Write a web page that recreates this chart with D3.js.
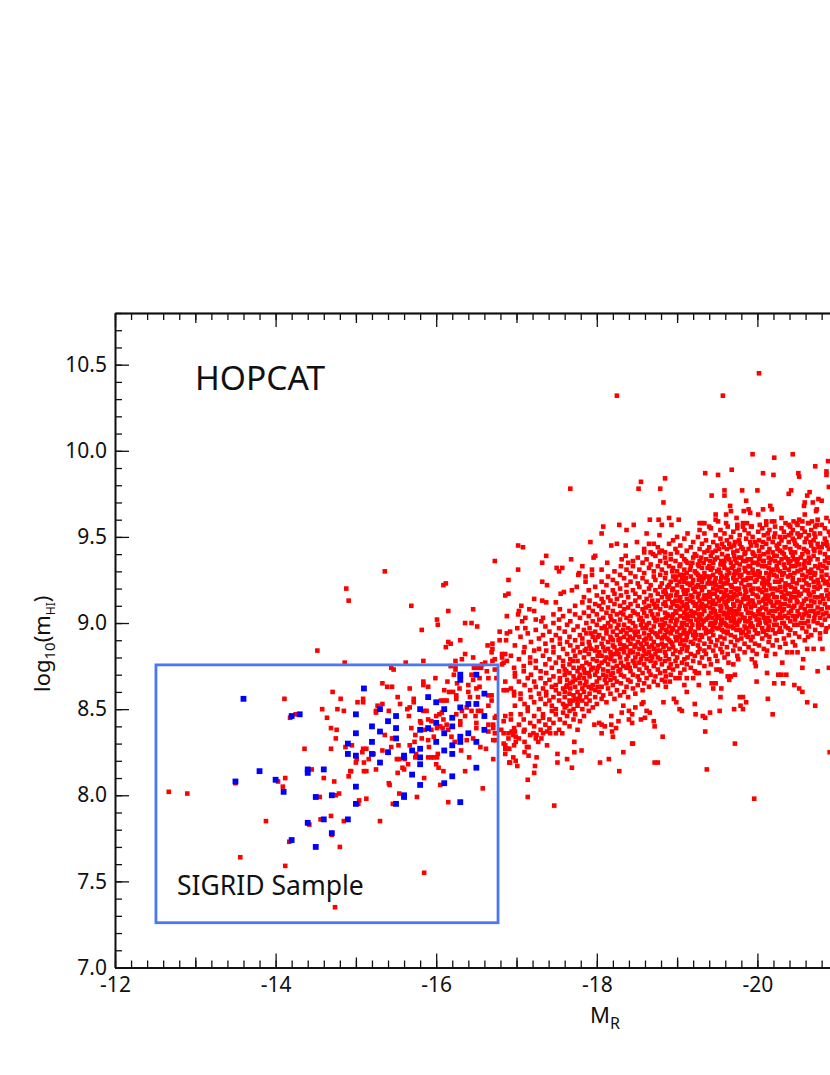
<!DOCTYPE html>
<html>
<head>
<meta charset="utf-8">
<script src="https://cdn.jsdelivr.net/npm/d3@7"></script>
<style>
  body { margin: 0; background: #fff; }
  svg { display: block; font-family: "Noto Sans", sans-serif; }
</style>
</head>
<body>
<svg id="chart" width="830" height="1075"></svg>
<script>
// SIGRID sample, on its 0.1 mag grid
var blueMR = [-13.6,-14.2,-14.3,-14.9,-14.9,-13.8,-14.4,-14.4,-14.6,-13.5,-14.0,-14.1,-14.5,-14.7,-14.6,-14.9,-14.4,-14.7,-14.2,-14.5,
  -15.1,-15.0,-15.3,-15.5,-15.4,-15.2,-15.3,-15.5,-15.0,-15.2,-15.5,-15.0,-15.2,-15.4,-15.3,-15.6,-15.6,-15.7,-15.8,-15.8,-15.8,-15.7,-15.8,-15.0,-15.0,-15.6,-15.6,-15.5,
  -15.9,-16.0,-16.1,-15.8,-16.3,-16.4,-16.5,-16.5,-16.3,-16.3,-16.6,-16.6,-16.2,-16.0,-16.2,-15.9,-15.8,-16.1,-16.6,-16.4,-16.3,-16.3,-16.0,-16.2,-16.5,-16.1,-16.2,-16.5,-16.2,-16.1,-16.3];
var blueHI = [8.56,8.46,8.47,8.30,8.24,8.14,8.15,8.13,8.15,8.08,8.09,8.02,7.99,8.00,7.86,7.86,7.84,7.78,7.74,7.70,
  8.62,8.47,8.50,8.46,8.43,8.40,8.37,8.39,8.36,8.31,8.33,8.23,8.24,8.25,8.19,8.23,8.22,8.26,8.27,8.22,8.18,8.12,8.06,8.05,7.95,8.00,7.99,7.95,
  8.57,8.54,8.50,8.50,8.51,8.53,8.53,8.70,8.70,8.67,8.59,8.46,8.45,8.42,8.40,8.39,8.38,8.36,8.38,8.36,8.34,8.31,8.31,8.29,8.31,8.26,8.24,8.16,8.11,8.07,7.96];

// red points that can be read one by one: [M_R, log m_HI]
var redFaint = [[-12.67,8.02],[-12.90,8.01],[-13.50,8.07],[-13.56,7.64],[-13.88,7.85],[-14.03,8.08],[-14.09,8.05],[-14.11,8.56],[-14.12,8.10],[-14.12,7.59],[-14.17,7.73],[-14.18,8.45],[-14.25,8.47],[-14.36,8.27],[-14.42,7.83],[-14.45,8.15],[-14.52,8.84],[-14.55,7.99],[-14.56,7.86],[-14.58,8.50],[-14.60,8.10],[-14.64,8.45],[-14.69,8.39],[-14.69,8.27],[-14.69,7.88],[-14.70,7.77],[-14.71,8.60],[-14.73,8.08],[-14.74,7.35],[-14.75,8.33],[-14.75,8.00],[-14.76,8.38],[-14.77,8.50],[-14.79,8.01],[-14.80,7.70],[-14.81,8.56],[-14.85,8.49],[-14.85,7.85],[-14.86,8.77],[-14.87,8.28],[-14.88,9.20],[-14.91,9.13],[-14.91,8.11],[-14.93,8.14],[-15.85,7.55]];
var redLowBand = [[-15.36,9.30],[-15.69,9.10],[-16.09,9.22],[-16.12,9.23],[-16.15,9.07],[-16.46,9.08],[-16.01,9.02],[-16.02,8.99],[-16.36,9.00],[-16.44,9.00],[-16.51,8.98],[-15.82,8.96],[-16.73,9.36],[-16.90,9.25],[-16.86,9.16],[-16.90,9.17],[-16.88,9.04],[-16.79,8.95],[-16.88,8.94],[-16.92,8.95],[-16.15,8.89],[-16.18,8.88],[-16.12,8.86],[-16.30,8.90],[-16.79,8.90],[-16.87,8.90],[-16.64,8.87],[-16.70,8.88],[-16.70,8.85],[-16.69,8.83],[-16.36,8.82],[-16.46,8.80],[-16.32,8.79],[-16.24,8.78],[-16.82,8.82],[-16.86,8.82],[-16.82,8.80],[-16.88,8.78],[-16.84,8.77],[-16.82,8.76],[-16.73,8.79],[-16.70,8.78],[-16.61,8.77],[-16.57,8.76],[-15.84,8.78],[-15.62,8.77],
  [-15.44,8.74],[-15.47,8.73],[-15.99,8.68],[-15.33,8.65],[-15.39,8.63],[-15.45,8.63],[-15.67,8.62],[-15.84,8.66],[-15.84,8.64],[-15.90,8.63],[-16.14,8.66],[-16.26,8.65],[-16.22,8.70],[-16.24,8.73],[-16.18,8.75],[-16.24,8.75],[-16.47,8.74],[-16.52,8.74],[-16.56,8.74],[-16.63,8.72],[-16.73,8.73],[-16.44,8.70],[-16.46,8.67],[-16.54,8.68],[-16.65,8.68],[-16.75,8.68],[-16.86,8.66],[-15.02,8.54],[-15.09,8.56],[-15.09,8.54],[-15.27,8.52],[-15.33,8.53],[-15.25,8.49],[-15.25,8.48],[-15.52,8.57],[-15.55,8.53],[-15.41,8.49],[-15.67,8.51],[-15.64,8.50],[-15.66,8.46],[-15.72,8.56],[-15.72,8.54],[-15.84,8.49],[-15.88,8.49],[-16.06,8.55],[-16.10,8.55],[-16.13,8.55],[-16.25,8.58],[-16.25,8.56],[-16.10,8.61],[-16.16,8.60],[-16.21,8.60],[-16.29,8.62],[-16.40,8.64],[-16.40,8.60],[-16.42,8.57],[-16.50,8.62],[-16.54,8.63],[-16.52,8.57],[-16.65,8.58],[-16.69,8.58],[-16.69,8.55],[-16.65,8.52],[-16.84,8.61],[-16.88,8.61],[-16.38,8.51],[-16.44,8.49],[-16.52,8.49],[-16.49,8.46],[-16.56,8.49],[-16.32,8.49],[-16.25,8.47],[-16.07,8.48],[-16.00,8.46],[-16.04,8.47],[-15.80,8.43],[-15.90,8.44],[-15.81,8.42],[-15.94,8.43],[-16.09,8.44],[-16.36,8.46],[-16.30,8.43],[-16.50,8.42],[-16.65,8.41],[-16.71,8.41],[-16.73,8.45],[-16.75,8.46],[-16.86,8.46],[-16.84,8.43],[-15.86,8.38],[-15.69,8.39],[-15.74,8.35],[-15.94,8.38],[-16.05,8.40],[-16.01,8.39],[-16.08,8.39],[-16.13,8.41],[-16.15,8.38],[-16.30,8.41],[-16.50,8.39],[-16.65,8.37],[-16.71,8.39],[-16.73,8.36],[-16.84,8.36],[-16.90,8.33],[-15.73,8.31],[-15.82,8.33],[-15.90,8.32],[-15.97,8.34],[-16.19,8.34],[-16.23,8.31],[-16.38,8.32],[-16.46,8.33],[-16.71,8.32],[-16.74,8.32],[-16.86,8.29],[-15.67,8.29],[-15.91,8.28],[-15.53,8.29],[-15.44,8.28],[-15.33,8.26],[-15.54,8.21],[-15.45,8.33],[-15.36,8.35],[-14.95,8.29],[-15.13,8.27],[-15.09,8.27],[-15.08,8.25],[-15.01,8.21],[-15.16,8.21],[-15.22,8.24],[-15.10,8.19],[-15.00,8.19],[-15.51,8.21],[-15.61,8.21],[-15.74,8.22],[-15.75,8.24],[-15.90,8.22],[-15.94,8.22],[-15.97,8.22],[-16.02,8.24],[-16.01,8.22],[-16.00,8.18],[-16.03,8.16],[-16.09,8.14],[-16.31,8.26],[-16.41,8.22],[-16.55,8.28],[-16.62,8.27],[-16.71,8.21],[-16.86,8.24],[-16.91,8.19],[-16.36,8.14],[-15.58,8.16],[-15.60,8.15],[-15.65,8.18],[-15.52,8.13],[-15.25,8.15],[-15.10,8.14],[-15.13,8.14],[-14.94,8.14],[-15.41,8.07],[-15.42,8.06],[-15.85,8.10],[-16.05,8.06],[-16.58,8.04],[-15.13,7.98],[-15.04,7.97],[-15.03,7.95],[-15.54,8.01],[-15.76,7.99],[-15.46,7.95],[-16.15,7.96],[-15.30,7.85]];
var redUpper = [[-18.25,10.32],[-19.57,10.32],[-20.02,10.45],[-17.67,9.78],[-18.55,9.82],[-18.52,9.78],[-18.85,9.84],[-18.79,9.78],[-18.83,9.70],[-18.66,9.60],[-18.77,9.60],[-18.90,9.61],[-19.02,9.60],[-18.81,9.57],[-18.93,9.57],[-18.46,9.57],[-18.28,9.57],[-18.08,9.56],[-18.37,9.54],[-19.28,9.58],[-19.31,9.58],[-19.34,9.58],[-19.40,9.56],[-19.35,9.87],[-19.51,9.86],[-19.68,9.89],[-19.94,9.98],[-20.21,9.96],[-20.44,9.98],[-20.88,9.94],[-20.72,9.91],[-20.07,9.87],[-20.20,9.86],[-20.51,9.87],[-20.52,9.85],[-20.86,9.88],[-20.86,9.86],[-19.59,9.77],[-19.59,9.74],[-19.43,9.74],[-19.81,9.77],[-20.00,9.77],[-20.42,9.77],[-20.39,9.75],[-20.65,9.76],[-20.62,9.74],[-20.89,9.79],[-19.86,9.71],[-19.66,9.68],[-19.67,9.65],[-19.48,9.63],[-19.61,9.63],[-19.48,9.60],[-19.51,9.59],[-19.61,9.58],[-19.83,9.65],[-19.89,9.66],[-19.91,9.64],[-19.74,9.61],[-20.01,9.63],[-20.07,9.66],[-20.16,9.68],[-20.18,9.66],[-20.30,9.61],[-20.59,9.70],[-20.58,9.68],[-20.69,9.70],[-20.76,9.72],[-20.80,9.71],[-20.59,9.63],[-20.74,9.66],[-20.73,9.65],[-19.75,9.57],[-19.82,9.58],[-19.87,9.58],[-19.82,9.56],[-19.93,9.56],[-20.03,9.57],[-20.11,9.59],[-20.18,9.59],[-20.21,9.59],[-20.39,9.57],[-20.45,9.59],[-20.49,9.58],[-20.52,9.60],[-20.56,9.59],[-20.63,9.58],[-20.68,9.59],[-20.74,9.57],
  [-17.02,9.45],[-17.08,9.44],[-17.02,9.31],[-17.37,9.39],[-17.32,9.35],[-17.68,9.37],[-17.92,9.47],[-18.06,9.52],[-18.18,9.45],[-18.25,9.46],[-18.36,9.45],[-18.50,9.47],[-18.59,9.41],[-18.70,9.40],[-18.78,9.41],[-18.85,9.41],[-17.98,9.39],[-17.96,9.38],[-18.13,9.35],[-18.31,9.37],[-18.36,9.39],[-18.45,9.36],[-18.65,9.46],[-18.71,9.46],[-18.62,9.52],[-18.78,9.51],[-17.82,9.33],[-18.06,9.31],[-17.94,9.31],[-17.94,9.28],[-17.86,9.27],[-17.78,9.29],[-17.77,9.28],[-17.50,9.32],[-17.57,9.32],[-17.53,9.30],[-17.32,9.24],[-17.38,9.22],[-17.22,9.14],[-17.32,9.13],[-17.37,9.12],[-17.49,9.12],[-17.55,9.17],[-17.59,9.18],[-17.69,9.19],[-17.75,9.21],[-17.86,9.24],[-17.06,9.10],[-17.03,9.07],[-17.02,9.05],[-17.16,9.08],[-17.22,9.07],[-17.11,9.03],[-17.24,9.02],[-17.31,9.01],[-17.33,9.03],[-17.46,9.05],[-17.54,9.08],[-17.07,9.01],[-17.11,8.97],[-17.01,8.97]];
var redLower = [[-18.82,8.34],[-18.45,8.30],[-18.44,8.30],[-19.72,8.30],[-18.33,8.25],[-19.35,8.37],[-20.90,8.25],[-18.04,8.19],[-18.15,8.21],[-18.72,8.19],[-18.76,8.19],[-18.28,8.14],[-19.37,8.15],[-19.96,7.98],[-17.14,7.99],[-17.47,7.94],[-17.14,8.09],[-17.22,8.13],[-17.23,8.17],[-17.01,8.17],[-16.92,8.19],[-16.99,8.20],[-16.96,8.22],[-17.25,8.22],[-17.15,8.23],[-17.10,8.25],[-17.51,8.24],[-17.51,8.19],[-17.63,8.21],[-17.69,8.16],[-17.72,8.25],[-17.81,8.26],[-17.72,8.31],[-17.38,8.29],[-17.27,8.31],[-17.31,8.33],[-17.13,8.28],[-17.15,8.28],[-16.86,8.27],[-16.89,8.27],[-16.91,8.27],[-16.84,8.30],[-16.97,8.29],[-16.99,8.31],[-16.99,8.34],[-16.94,8.37],[-16.98,8.37],[-16.90,8.36],[-16.96,8.35],[-16.81,8.38],[-17.09,8.37],[-17.21,8.36],[-17.25,8.35],[-17.33,8.36],[-17.38,8.37],[-17.42,8.36],[-17.49,8.36],[-17.57,8.36],[-17.76,8.38],[-18.06,8.36],[-18.20,8.34],[-18.19,8.37],[-18.24,8.39],[-18.18,8.41],[-18.10,8.40],[-18.03,8.42],[-18.06,8.41],[-17.97,8.41],[-18.72,8.40],[-18.71,8.43],[-18.44,8.42],[-18.40,8.44],[-18.27,8.43],[-18.55,8.44],[-18.60,8.45],[-18.18,8.46],[-19.35,8.45],[-19.32,8.46],[-19.23,8.47],[-19.41,8.48],[-19.53,8.49],[-19.71,8.50],[-19.82,8.50],[-19.79,8.52],[-19.86,8.54],[-20.19,8.47],[-20.62,8.54],[-20.72,8.52],[-19.22,8.53],[-19.06,8.49],[-19.03,8.50],[-18.66,8.48],[-18.62,8.49],[-18.48,8.51],[-18.44,8.47],[-18.40,8.49],[-18.33,8.52],[-18.31,8.48],[-18.99,8.54],[-18.83,8.54],[-18.58,8.54],[-18.56,8.53],
  [-20.56,8.60],[-20.52,8.62],[-20.46,8.64],[-20.32,8.65],[-20.21,8.65],[-20.26,8.70],[-20.30,8.70],[-20.36,8.70],[-20.13,8.56],[-20.12,8.71],[-19.99,8.66],[-19.78,8.57],[-19.82,8.57],[-19.54,8.57],[-19.55,8.62],[-19.45,8.62],[-19.43,8.65],[-19.48,8.65],[-19.27,8.64],[-19.12,8.60],[-19.09,8.64],[-19.20,8.68],[-19.24,8.71],[-19.27,8.71],[-18.96,8.56],[-18.86,8.63],[-18.91,8.66],[-18.85,8.66],[-19.03,8.68],[-19.12,8.68],[-19.65,8.67],[-19.63,8.69],[-19.67,8.69],[-19.72,8.70],[-19.53,8.73],[-19.49,8.73],[-19.55,8.72],[-19.39,8.71],[-19.99,8.82],[-20.12,8.84],[-20.11,8.81],[-20.22,8.82],[-19.97,8.77],[-19.98,8.75],[-19.93,8.79],[-20.31,8.77],[-20.56,8.74],[-20.57,8.79],[-20.75,8.72],[-20.89,8.74],[-20.70,8.85],[-20.81,8.85],[-20.62,8.85],[-20.63,8.92],[-20.78,8.91],[-20.85,8.95],[-20.47,8.87],[-20.50,8.83],[-20.43,8.83],[-20.37,8.83],[-19.76,8.79],[-19.70,8.76],[-19.64,8.77]];

// the dense cloud, estimated strip by strip: first number is M_R, the rest log m_HI
var redCloud = [
[-16.93,8.44,8.47,8.62,8.81],[-16.97,8.39,8.58,8.60,8.74],[-16.98,8.52,8.69,8.71,8.87],[-17.03,8.33,8.41,8.66,8.79],[-17.05,8.47,8.56,8.59,8.92],[-17.09,8.44,8.72,8.75,8.83],
[-17.10,8.31,8.38,8.53,8.64,8.86],[-17.14,8.49,8.51,8.68,8.94],[-17.17,8.35,8.42,8.61,8.77,8.80],[-17.18,8.57,8.70,8.89],[-17.22,8.40,8.46,8.54,8.66,8.84],[-17.24,8.33,8.63,8.74,8.78,8.96],
[-17.28,8.43,8.50,8.59,8.85,8.91],[-17.30,8.38,8.56,8.68,8.72],[-17.33,8.45,8.47,8.62,8.81,8.93],[-17.36,8.41,8.53,8.65,8.76,8.88,8.98],[-17.37,8.58,8.60,8.71,8.84],[-17.41,8.39,8.44,8.55,8.67,8.79,8.95],
[-17.44,8.49,8.52,8.63,8.74,8.90],[-17.46,8.42,8.57,8.69,8.83,8.86,9.00],[-17.49,8.47,8.50,8.61,8.64,8.77,8.93],[-17.53,8.38,8.55,8.59,8.72,8.80,8.97,9.02],[-17.54,8.44,8.66,8.68,8.88,8.91],[-17.58,8.48,8.53,8.62,8.75,8.78,8.85,9.04],
[-17.60,8.42,8.51,8.57,8.60,8.70,8.73,8.95],[-17.63,8.46,8.64,8.67,8.82,8.89,8.99],[-17.66,8.40,8.49,8.55,8.59,8.71,8.76,8.92,9.07],[-17.67,8.53,8.62,8.65,8.79,8.87,9.01],[-17.71,8.44,8.50,8.58,8.69,8.74,8.84,8.96],[-17.73,8.47,8.56,8.63,8.67,8.81,8.90,9.05,9.10],
[-17.76,8.52,8.54,8.60,8.72,8.78,8.86,8.98],[-17.79,8.43,8.58,8.65,8.70,8.83,8.93,9.03],[-17.82,8.50,8.55,8.62,8.75,8.88,8.91,9.12],[-17.84,8.46,8.60,8.68,8.73,8.80,8.96,9.06,9.15],[-17.87,8.53,8.57,8.66,8.77,8.85,8.94,9.00],[-17.90,8.49,8.63,8.71,8.82,8.89,9.04,9.09,9.19],
[-17.91,8.55,8.59,8.69,8.76,8.87,8.97,9.13],[-17.95,8.51,8.64,8.74,8.79,8.92,9.01,9.07],[-17.98,8.57,8.61,8.70,8.84,8.90,8.95,9.11,9.21],[-18.00,8.53,8.66,8.72,8.78,8.86,8.99,9.05,9.16],[-18.03,8.60,8.68,8.75,8.83,8.93,9.02,9.10],[-18.06,8.56,8.63,8.77,8.81,8.88,8.97,9.08,9.14,9.24],
[-18.08,8.58,8.70,8.73,8.86,8.91,9.03,9.12,9.18],[-18.12,8.54,8.65,8.69,8.80,8.94,8.96,9.06,9.22],[-18.14,8.62,8.72,8.76,8.85,8.89,9.00,9.09,9.15,9.27],[-18.17,8.59,8.67,8.79,8.83,8.92,8.98,9.04,9.13],[-18.20,8.64,8.71,8.74,8.87,8.90,8.95,9.07,9.19,9.25],[-18.22,8.56,8.68,8.78,8.82,8.86,9.01,9.11,9.17,9.30],
[-18.25,8.61,8.66,8.75,8.84,8.93,8.97,9.05,9.14,9.23],[-18.29,8.58,8.73,8.80,8.88,8.91,9.02,9.10,9.20,9.28],[-18.30,8.65,8.70,8.77,8.85,8.95,9.06,9.16,9.33],[-18.34,8.60,8.69,8.83,8.87,8.92,8.99,9.08,9.12,9.26],[-18.37,8.63,8.74,8.79,8.86,8.94,9.03,9.18,9.22,9.31],[-18.39,8.57,8.67,8.76,8.81,8.90,8.97,9.09,9.15,9.35],
[-18.42,8.66,8.72,8.84,8.88,8.96,9.04,9.11,9.24,9.29],[-18.45,8.62,8.70,8.78,8.83,8.91,9.00,9.07,9.19,9.33],[-18.48,8.59,8.75,8.80,8.87,8.93,8.98,9.13,9.17,9.27],[-18.51,8.64,8.69,8.82,8.89,8.95,9.05,9.10,9.23,9.38],[-18.53,8.67,8.73,8.77,8.85,8.92,9.02,9.15,9.21,9.31],[-18.57,8.61,8.71,8.81,8.86,8.97,9.01,9.08,9.26,9.35],
[-18.59,8.65,8.76,8.84,8.90,8.94,9.06,9.12,9.18,9.29,9.43],[-18.62,8.68,8.74,8.79,8.88,8.99,9.04,9.14,9.24,9.37],[-18.65,8.63,8.72,8.83,8.86,8.93,9.00,9.10,9.20,9.32],[-18.67,8.70,8.78,8.81,8.91,8.96,9.07,9.16,9.22,9.34,9.41],[-18.71,8.66,8.75,8.85,8.89,8.98,9.03,9.11,9.27,9.30],[-18.73,8.69,8.77,8.82,8.94,9.01,9.09,9.19,9.25,9.39],
[-18.76,8.64,8.73,8.80,8.87,8.92,9.05,9.13,9.17,9.33,9.44],[-18.79,8.71,8.79,8.84,8.95,8.99,9.08,9.21,9.28,9.36],[-18.81,8.67,8.76,8.88,8.91,8.97,9.02,9.15,9.23,9.31,9.42],[-18.85,8.72,8.78,8.83,8.93,9.00,9.06,9.12,9.19,9.26,9.38],[-18.86,8.69,8.81,8.87,8.96,9.03,9.10,9.17,9.29,9.35],[-18.90,8.74,8.79,8.85,8.90,8.98,9.04,9.14,9.22,9.33,9.46],
[-18.92,8.70,8.76,8.89,8.94,9.01,9.09,9.16,9.24,9.37,9.40],[-18.95,8.73,8.82,8.86,8.97,9.05,9.11,9.20,9.27,9.32,9.48],[-18.98,8.68,8.78,8.84,8.92,8.99,9.07,9.13,9.25,9.36,9.43],[-19.00,8.75,8.80,8.91,8.95,9.02,9.10,9.18,9.22,9.30,9.41,9.50],[-19.04,8.71,8.83,8.88,8.93,9.04,9.08,9.15,9.28,9.34,9.45],[-19.06,8.77,8.85,8.90,8.98,9.00,9.12,9.21,9.26,9.39],
[-19.09,8.73,8.79,8.87,8.96,9.03,9.06,9.17,9.24,9.31,9.37,9.49],[-19.12,8.76,8.84,8.92,8.99,9.05,9.11,9.14,9.29,9.42],[-19.13,8.80,8.86,8.94,9.02,9.09,9.19,9.23,9.35,9.52],[-19.17,8.74,8.82,8.89,8.97,9.01,9.07,9.16,9.27,9.33,9.44],[-19.20,8.78,8.88,8.93,9.04,9.12,9.20,9.25,9.38,9.47],[-19.22,8.72,8.81,8.91,8.95,9.06,9.10,9.18,9.30,9.40],
[-19.26,8.83,8.87,8.98,9.00,9.08,9.15,9.22,9.28,9.34,9.50],[-19.28,8.77,8.85,8.90,9.03,9.09,9.13,9.26,9.36,9.43,9.54],[-19.31,8.80,8.92,8.99,9.05,9.11,9.19,9.24,9.32,9.46],[-19.34,8.75,8.84,8.88,8.97,9.07,9.16,9.21,9.29,9.41,9.52],[-19.36,8.82,8.94,8.96,9.02,9.10,9.14,9.27,9.37,9.48],[-19.40,8.79,8.86,8.91,9.04,9.12,9.18,9.25,9.33,9.44],
[-19.42,8.76,8.89,8.95,9.00,9.06,9.17,9.23,9.31,9.39,9.55],[-19.45,8.84,8.93,8.98,9.08,9.13,9.20,9.28,9.35,9.47],[-19.48,8.81,8.87,9.01,9.05,9.11,9.22,9.26,9.42,9.51],[-19.50,8.78,8.90,8.97,9.03,9.15,9.19,9.30,9.38,9.45],[-19.54,8.85,8.92,8.99,9.07,9.10,9.24,9.29,9.34,9.49,9.54],[-19.56,8.83,8.88,8.96,9.02,9.14,9.21,9.27,9.40,9.46],
[-19.59,8.80,8.91,9.00,9.06,9.12,9.17,9.32,9.36,9.52],[-19.62,8.86,8.94,9.03,9.09,9.16,9.23,9.28,9.43,9.48],[-19.63,8.82,8.95,8.98,9.05,9.13,9.25,9.31,9.39,9.56],[-19.67,8.89,8.93,9.01,9.08,9.18,9.22,9.35,9.44,9.50],[-19.70,8.84,8.97,9.04,9.11,9.15,9.26,9.33,9.41,9.53],[-19.72,8.87,8.92,9.00,9.07,9.20,9.24,9.30,9.37,9.47],
[-19.75,8.81,8.90,8.99,9.06,9.13,9.19,9.29,9.42,9.55],[-19.78,8.85,8.96,9.02,9.10,9.17,9.27,9.34,9.46,9.51],[-19.80,8.91,8.94,9.05,9.12,9.23,9.28,9.38,9.44],[-19.84,8.83,8.88,8.98,9.03,9.16,9.21,9.32,9.40,9.54],[-19.86,8.93,8.97,9.08,9.14,9.18,9.25,9.36,9.49],[-19.89,8.86,8.95,9.01,9.11,9.22,9.29,9.33,9.43,9.52],
[-19.92,8.90,9.00,9.06,9.09,9.19,9.26,9.37,9.45,9.56],[-19.94,8.84,8.92,8.98,9.13,9.17,9.31,9.35,9.41,9.50],[-19.97,8.88,8.96,9.04,9.10,9.24,9.28,9.39,9.47],[-20.01,8.94,8.99,9.07,9.15,9.20,9.30,9.34,9.53],[-20.02,8.87,9.02,9.05,9.12,9.27,9.37,9.42,9.48],[-20.06,8.91,8.97,9.09,9.18,9.23,9.33,9.44,9.55],
[-20.08,8.85,8.95,9.03,9.14,9.21,9.25,9.36,9.40,9.51],[-20.11,8.93,9.00,9.08,9.11,9.19,9.29,9.46,9.57],[-20.14,8.89,8.98,9.06,9.16,9.26,9.32,9.38,9.49],[-20.15,8.92,9.01,9.13,9.22,9.28,9.35,9.43,9.54],[-20.19,8.87,8.96,9.04,9.10,9.17,9.31,9.41,9.47],[-20.22,8.94,9.02,9.07,9.20,9.24,9.36,9.52,9.56],
[-20.24,8.90,8.99,9.12,9.15,9.27,9.33,9.39,9.45],[-20.28,8.86,8.97,9.05,9.09,9.21,9.30,9.42,9.50],[-20.30,8.95,9.03,9.11,9.18,9.25,9.37,9.48,9.55],[-20.33,8.91,9.00,9.08,9.16,9.29,9.34,9.40,9.53],[-20.35,8.88,8.98,9.14,9.19,9.23,9.38,9.44,9.58],[-20.39,8.93,9.06,9.10,9.22,9.31,9.35,9.47,9.51],
[-20.41,8.96,9.01,9.13,9.17,9.28,9.36,9.43,9.56],[-20.44,8.89,9.04,9.09,9.24,9.26,9.39,9.49,9.54],[-20.47,8.94,9.02,9.15,9.20,9.33,9.41,9.46],[-20.50,8.99,9.07,9.12,9.18,9.30,9.37,9.52,9.57],[-20.52,8.92,9.05,9.16,9.25,9.34,9.44,9.50],[-20.56,8.97,9.03,9.11,9.21,9.28,9.40,9.55],
[-20.59,8.90,9.00,9.08,9.19,9.32,9.36,9.47,9.53],[-20.61,8.95,9.06,9.14,9.23,9.27,9.42,9.49],[-20.64,8.98,9.04,9.17,9.22,9.35,9.38,9.51,9.58],[-20.67,8.93,9.10,9.13,9.26,9.31,9.45,9.54],[-20.70,9.01,9.07,9.18,9.24,9.39,9.43,9.48],[-20.72,8.96,9.05,9.15,9.29,9.33,9.50,9.56],
[-20.75,9.00,9.09,9.20,9.25,9.37,9.46,9.60],[-20.78,8.94,9.03,9.12,9.21,9.34,9.41,9.52],[-20.80,8.99,9.08,9.16,9.27,9.30,9.44,9.57],[-20.84,9.02,9.11,9.23,9.36,9.40,9.49,9.55],[-20.86,8.97,9.06,9.19,9.28,9.32,9.47,9.61],[-20.89,9.04,9.14,9.22,9.35,9.43,9.53],
[-20.91,8.98,9.09,9.17,9.26,9.38,9.51,9.59],[-20.95,9.01,9.12,9.24,9.31,9.42,9.48,9.56]
];

// second pass over the solid part of the band, where the marks nearly merge
var redCore = [
[-17.62,8.52,8.63,8.72],[-17.70,8.55,8.66,8.78],[-17.78,8.56,8.68,8.74],[-17.85,8.64,8.71,8.84],[-17.93,8.62,8.73,8.85,8.94],[-18.01,8.63,8.74,8.81,8.92],
[-18.10,8.67,8.78,8.84,8.98],[-18.18,8.70,8.81,8.91,9.02],[-18.27,8.72,8.82,8.90,8.99],[-18.33,8.75,8.85,8.96,9.05],[-18.41,8.74,8.83,8.92,9.01],[-18.47,8.77,8.86,8.95,9.06],
[-18.55,8.79,8.88,8.99,9.03],[-18.61,8.82,8.91,8.97,9.09],[-18.69,8.80,8.87,8.95,9.05,9.13],[-18.75,8.84,8.93,9.02,9.10],[-18.83,8.86,8.92,8.99,9.11,9.18],[-18.88,8.91,8.95,9.05,9.15,9.21],
[-18.94,8.88,8.96,9.03,9.12,9.19,9.30],[-18.99,8.90,9.01,9.06,9.16,9.27],[-19.03,8.92,8.97,9.09,9.13,9.24,9.33],[-19.08,8.94,9.00,9.10,9.19,9.28],[-19.11,8.90,9.03,9.08,9.17,9.26,9.36],[-19.16,8.95,9.04,9.13,9.22,9.31],
[-19.19,8.99,9.06,9.15,9.23,9.35],[-19.24,8.93,9.02,9.11,9.21,9.29,9.39],[-19.27,8.97,9.05,9.17,9.25,9.33],[-19.30,8.93,9.02,9.10,9.21,9.27,9.38],[-19.33,9.01,9.08,9.14,9.26,9.35],[-19.38,8.95,9.03,9.16,9.23,9.32,9.42],
[-19.41,8.99,9.09,9.15,9.27,9.36],[-19.44,8.96,9.03,9.11,9.23,9.32,9.41],[-19.47,9.00,9.07,9.17,9.24,9.37],[-19.52,8.97,9.04,9.13,9.21,9.31,9.43],[-19.55,9.01,9.09,9.18,9.26,9.36],[-19.58,8.95,9.05,9.15,9.23,9.34,9.44],
[-19.61,8.99,9.11,9.19,9.26,9.38],[-19.65,9.03,9.07,9.15,9.29,9.37,9.46],[-19.68,8.98,9.06,9.14,9.21,9.32],[-19.71,9.02,9.10,9.17,9.28,9.39,9.45],[-19.74,8.96,9.05,9.16,9.25,9.35],[-19.77,9.01,9.08,9.20,9.31,9.38,9.48],
[-19.82,8.95,9.03,9.14,9.25,9.36,9.43],[-19.85,9.01,9.10,9.19,9.30,9.41],[-19.88,8.92,9.06,9.15,9.26,9.37],[-19.91,8.98,9.03,9.13,9.22,9.33,9.47],[-19.95,9.05,9.11,9.20,9.29,9.40],[-19.99,8.94,9.02,9.16,9.25,9.35,9.45],
[-20.03,9.00,9.08,9.19,9.29,9.39],[-20.07,8.95,9.05,9.13,9.26,9.36,9.47],[-20.10,9.01,9.11,9.16,9.23,9.33],[-20.13,8.96,9.03,9.14,9.24,9.41,9.52],[-20.17,9.07,9.12,9.20,9.30,9.37],[-20.21,8.99,9.10,9.15,9.28,9.39,9.50],
[-20.25,9.03,9.08,9.19,9.31,9.43],[-20.27,8.95,9.12,9.24,9.35,9.46],[-20.31,9.00,9.07,9.15,9.28,9.41],[-20.34,9.04,9.11,9.21,9.32,9.44,9.50],[-20.38,8.97,9.03,9.17,9.27,9.37],[-20.42,9.07,9.15,9.21,9.33,9.41,9.52],
[-20.46,8.99,9.10,9.18,9.29,9.37,9.48],[-20.49,9.04,9.13,9.23,9.35,9.45],[-20.54,9.00,9.09,9.17,9.31,9.38,9.51],[-20.58,9.05,9.13,9.25,9.34,9.43],[-20.63,9.01,9.10,9.19,9.30,9.41],[-20.66,9.07,9.16,9.29,9.37,9.47],
[-20.71,9.03,9.12,9.21,9.28,9.42,9.52],[-20.76,9.06,9.15,9.23,9.32,9.44],[-20.82,9.05,9.14,9.25,9.33,9.46],[-20.87,9.09,9.16,9.24,9.38,9.45],[-20.93,9.06,9.19,9.28,9.35,9.52]
];

var mrLabels = [-12,-14,-16,-18,-20];
var hiLabels = [7.0,7.5,8.0,8.5,9.0,9.5,10.0,10.5];
var sigridBox = {mrFrom: -12.51, mrTo: -16.77, hiFrom: 7.26, hiTo: 8.757};

var x = d3.scaleLinear().domain([-12, -21]).range([115, 837.7]);
var y = d3.scaleLinear().domain([7, 10.8]).range([967.5, 313]);

var svg = d3.select("#chart");

// flatten the strips, then join with the single points
var red = redFaint.concat(redLowBand, redUpper, redLower);
redCloud.concat(redCore).forEach(function(c) {
  c.slice(1).forEach(function(h) { red.push([c[0], h]); });
});

svg.append("g").selectAll("rect").data(red).join("rect")
  .attr("x", function(d) { return x(d[0]) - 2.3; })
  .attr("y", function(d) { return y(d[1]) - 2.3; })
  .attr("width", 4.6).attr("height", 4.6)
  .attr("fill", "#ff0000");

svg.append("g").selectAll("rect").data(blueMR).join("rect")
  .attr("x", function(d) { return x(d) - 2.9; })
  .attr("y", function(d, i) { return y(blueHI[i]) - 2.9; })
  .attr("width", 5.8).attr("height", 5.8)
  .attr("fill", "#0000ff");

// SIGRID selection box
svg.append("rect")
  .attr("x", x(sigridBox.mrFrom)).attr("y", y(sigridBox.hiTo))
  .attr("width", x(sigridBox.mrTo) - x(sigridBox.mrFrom))
  .attr("height", y(sigridBox.hiFrom) - y(sigridBox.hiTo))
  .attr("fill", "none").attr("stroke", "#4a78f2").attr("stroke-width", 2.8);

// axes: three tick lengths on x, two on y
var allMR = d3.range(-12, -21.01, -0.2).map(function(v) { return +v.toFixed(1); });
var oddMR = d3.range(-13, -21.01, -2);
var allHI = d3.range(7, 10.81, 0.1).map(function(v) { return +v.toFixed(1); });

function styleAxis(g) {
  g.selectAll("path.domain").attr("stroke", "#111").attr("stroke-width", 1.6);
  g.selectAll(".tick line").attr("stroke", "#111").attr("stroke-width", 1.3);
  g.selectAll("text").attr("font-family", '"Noto Sans", sans-serif').attr("font-size", 21).attr("fill", "#111");
}

function xAxes(maker, yPos) {
  svg.append("g").attr("transform", "translate(0," + yPos + ")")
    .call(maker(x).tickValues(allMR).tickSizeOuter(0).tickSizeInner(-7).tickFormat("")).call(styleAxis);
  svg.append("g").attr("transform", "translate(0," + yPos + ")")
    .call(maker(x).tickValues(oddMR).tickSizeOuter(0).tickSizeInner(-10).tickFormat("")).call(styleAxis);
}
xAxes(d3.axisBottom, y(7));
xAxes(d3.axisTop, y(10.8));

// plain hyphen on the labels, like the original plot
svg.append("g").attr("transform", "translate(0," + y(7) + ")")
  .call(d3.axisBottom(x).tickValues(mrLabels).tickSizeOuter(0).tickSizeInner(-14).tickPadding(10).tickFormat(function(d) { return String(d); }))
  .call(styleAxis);
svg.append("g").attr("transform", "translate(0," + y(10.8) + ")")
  .call(d3.axisTop(x).tickValues(mrLabels).tickSizeOuter(0).tickSizeInner(-14).tickFormat(""))
  .call(styleAxis);

svg.append("g").attr("transform", "translate(115,0)")
  .call(d3.axisLeft(y).tickValues(allHI).tickSizeOuter(0).tickSizeInner(-7).tickFormat(""))
  .call(styleAxis);
svg.append("g").attr("transform", "translate(115,0)")
  .call(d3.axisLeft(y).tickValues(hiLabels).tickSizeOuter(0).tickSizeInner(-14).tickPadding(8).tickFormat(d3.format(".1f")))
  .call(styleAxis);

// axis titles
var xTitle = svg.append("text").attr("x", 590).attr("y", 1023).attr("font-size", 22).attr("fill", "#111");
xTitle.append("tspan").text("M");
xTitle.append("tspan").attr("font-size", 16).attr("dy", 6).text("R");

var yTitle = svg.append("text").attr("transform", "translate(50,692) rotate(-90)").attr("font-size", 22).attr("fill", "#111");
yTitle.append("tspan").text("log");
yTitle.append("tspan").attr("font-size", 15).attr("dy", 5).text("10");
yTitle.append("tspan").attr("dy", -5).text("(m");
yTitle.append("tspan").attr("font-size", 12).attr("dy", 5).text("HI");
yTitle.append("tspan").attr("dy", -5).text(")");

// annotations
svg.append("text").attr("x", 195).attr("y", 390).attr("font-size", 33.5).attr("fill", "#111").text("HOPCAT");
svg.append("text").attr("x", 177).attr("y", 895).attr("font-size", 26.5).attr("fill", "#111").text("SIGRID Sample");
</script>
</body>
</html>
